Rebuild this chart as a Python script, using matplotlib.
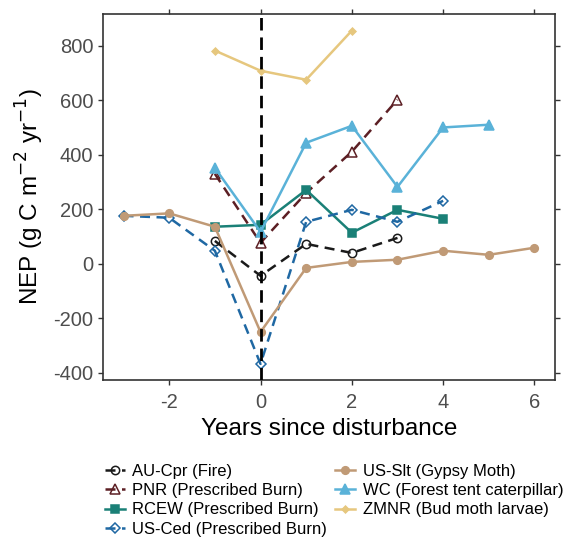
import matplotlib
matplotlib.use("Agg")
import matplotlib.pyplot as plt

plt.rcParams['font.family'] = ['Liberation Sans', 'DejaVu Sans']
plt.rcParams['axes.unicode_minus'] = False

# Data
au_x = [-1, 0, 1, 2, 3]
au_y = [84, -44, 73, 40, 95]
pnr_x = [-1, 0, 1, 2, 3]
pnr_y = [330, 77, 260, 411, 602]
rcew_x = [-1, 0, 1, 2, 3, 4]
rcew_y = [136, 143, 271, 114, 198, 165]
ced_x = [-3, -2, -1, 0, 1, 2, 3, 4]
ced_y = [176, 169, 48, -367, 154, 198, 154, 231]
slt_x = [-3, -2, -1, 0, 1, 2, 3, 4, 5, 6]
slt_y = [176, 185, 136, -250, -15, 7, 15, 48, 33, 59]
wc_x = [-1, 0, 1, 2, 3, 4, 5]
wc_y = [352, 117, 444, 506, 282, 500, 510]
zm_x = [-1, 0, 1, 2]
zm_y = [782, 708, 675, 855]

labels = ["AU-Cpr (Fire)", "PNR (Prescribed Burn)", "RCEW (Prescribed Burn)",
          "US-Ced (Prescribed Burn)", "US-Slt (Gypsy Moth)",
          "WC (Forest tent caterpillar)", "ZMNR (Bud moth larvae)"]
xticks = [-2, 0, 2, 4, 6]
yticks = [-400, -200, 0, 200, 400, 600, 800]

fig = plt.figure(figsize=(5.68, 5.42), dpi=100)
ax = fig.add_axes([103/568, 1-380/542, (555-103)/568, (380-14)/542])

lw = 1.8
dash = (4, 2.6)
ax.axvline(0, color='black', lw=2.0, ls=(0, (4.5, 2.5)), zorder=5)

series = [
    (au_x, au_y, '#1a1a1a', '--', 'o', 'none', 6),
    (pnr_x, pnr_y, '#5c1f24', '--', '^', 'none', 7),
    (rcew_x, rcew_y, '#1a8077', '-', 's', None, 5.5),
    (ced_x, ced_y, '#1f68a3', '--', 'D', 'none', 5.5),
    (slt_x, slt_y, '#c09a76', '-', 'o', None, 5.5),
    (wc_x, wc_y, '#5ab2d8', '-', '^', None, 7),
    (zm_x, zm_y, '#e6c77e', '-', 'D', None, 3.5),
]
handles = []
for (x, y, c, ls, m, mfc, ms), lab in zip(series, labels):
    kw = dict(color=c, lw=lw, marker=m, markersize=ms, label=lab,
              markeredgecolor=c, markeredgewidth=1.1)
    if mfc == 'none':
        kw['markerfacecolor'] = 'none'
    else:
        kw['markerfacecolor'] = c
    if ls == '--':
        kw['dashes'] = dash
    h, = ax.plot(x, y, **kw)
    handles.append(h)

ax.set_xlim(-3.45, 6.45)
ax.set_ylim(-426, 916)
ax.set_xticks(xticks)
ax.set_yticks(yticks)
ax.tick_params(axis='both', which='both', direction='out', length=3.5, width=1,
               color='#333333', labelsize=14.5, labelcolor='#4d4d4d', pad=3.5,
               top=True, right=True, labeltop=False, labelright=False)
ax.tick_params(axis='x', pad=5.5)
for s in ax.spines.values():
    s.set_color('#333333')
    s.set_linewidth(1.2)

ax.set_xlabel('Years since disturbance', fontsize=17.5, color='black', labelpad=5)
ax.set_ylabel(r'NEP (g C m$^{-2}$ yr$^{-1}$)', fontsize=17.5, color='black', labelpad=5)

leg = fig.legend(handles=handles, labels=labels, ncol=2, loc='upper left',
                 bbox_to_anchor=(98/568, 1-457/542), frameon=False, fontsize=12,
                 handlelength=1.2, handletextpad=0.45, columnspacing=0.5,
                 labelspacing=0.26, borderaxespad=0)

fig.savefig('out.png', dpi=100)
